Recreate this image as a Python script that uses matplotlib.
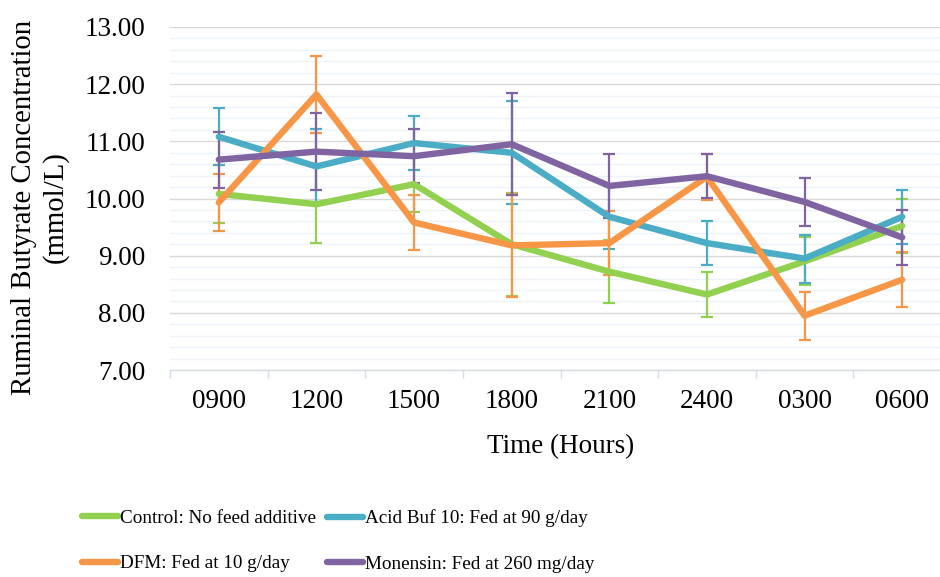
import matplotlib.pyplot as plt
from matplotlib.ticker import MultipleLocator, FixedLocator

plt.rcParams['font.family'] = ['Liberation Serif', 'DejaVu Serif']

heures = ['0900', '1200', '1500', '1800', '2100', '2400', '0300', '0600']

control = [10.08, 9.90, 10.25, 9.20, 8.72, 8.32, 8.90, 9.52]
control_err = [0.50, 0.68, 0.48, 0.90, 0.55, 0.39, 0.42, 0.48]

acid_buf = [11.08, 10.56, 10.97, 10.80, 9.68, 9.22, 8.95, 9.68]
acid_buf_err = [0.50, 0.66, 0.47, 0.90, 0.56, 0.39, 0.42, 0.47]

dfm = [9.93, 11.82, 9.58, 9.18, 9.22, 10.38, 7.95, 8.58]
dfm_err = [0.49, 0.68, 0.48, 0.90, 0.56, 0.40, 0.42, 0.48]

monensin = [10.68, 10.82, 10.74, 10.95, 10.22, 10.39, 9.94, 9.32]
monensin_err = [0.49, 0.68, 0.47, 0.89, 0.56, 0.38, 0.42, 0.48]

noms = ['Control: No feed additive', 'Acid Buf 10: Fed at 90 g/day',
        'DFM: Fed at 10 g/day', 'Monensin: Fed at 260 mg/day']
couleurs = ['#92D050', '#4BACC6', '#F79646', '#8064A2']

taille = 19.5

fig = plt.figure(figsize=(9.4, 5.77), dpi=100)
ax = fig.add_axes([170/940, 1 - 370/577, (951 - 170)/940, 343/577])

x = list(range(len(heures)))
series = [(control, control_err), (acid_buf, acid_buf_err),
          (dfm, dfm_err), (monensin, monensin_err)]
lignes = []
for (val, err), c, nom in zip(series, couleurs, noms):
    ax.errorbar(x, val, yerr=err, fmt='none', ecolor=c, elinewidth=1.6,
                capsize=4.5, capthick=1.6, zorder=3)
    l, = ax.plot(x, val, color=c, lw=4.6, label=nom, zorder=4,
                 solid_joinstyle='round', solid_capstyle='round')
    lignes.append(l)

ax.set_xlim(-0.5, 7.5)
ax.set_ylim(7, 13)
ax.set_xticks(x)
ax.set_xticklabels(heures, fontsize=taille)
ax.xaxis.set_minor_locator(FixedLocator([i + 0.5 for i in range(-1, 8)]))
ax.tick_params(axis='x', which='major', length=0, pad=14)
ax.tick_params(axis='x', which='minor', length=6, color='#D6DEEA', width=1)
ax.yaxis.set_minor_locator(MultipleLocator(0.2))
ax.set_yticks(range(7, 14))
ax.set_yticklabels([f'{v:.2f}' for v in range(7, 14)], fontsize=taille)
ax.tick_params(axis='y', which='both', length=0, pad=18)
ax.grid(True, which='minor', axis='y', color='#EEF3FA', lw=1, zorder=0)
ax.grid(True, which='major', axis='y', color='#D9D9D9', lw=1, zorder=1)
ax.set_axisbelow(True)
for s in ['top', 'right', 'left']:
    ax.spines[s].set_visible(False)
ax.spines['bottom'].set_color('#D6DEEA')
ax.spines['bottom'].set_linewidth(1)

ax.set_xlabel('Time (Hours)', fontsize=taille, labelpad=14)
fig.text(40/940, 1 - 207/577, 'Ruminal Butyrate Concentration\n(mmol/L)',
         rotation=90, ha='center', va='center', fontsize=20.7,
         multialignment='center', linespacing=1.25)

# legende en deux colonnes, placees separement
opts = dict(loc='center left', frameon=False, fontsize=13.8, handlelength=1.9,
            handletextpad=0.1, labelspacing=1.45, borderaxespad=0, borderpad=0)
leg1 = fig.legend(handles=[lignes[0], lignes[2]],
                  bbox_to_anchor=(82/940, 1 - 541/577), **opts)
leg2 = fig.legend(handles=[lignes[1], lignes[3]],
                  bbox_to_anchor=(327/940, 1 - 541/577), **opts)

fig.savefig('out.png', dpi=100)
